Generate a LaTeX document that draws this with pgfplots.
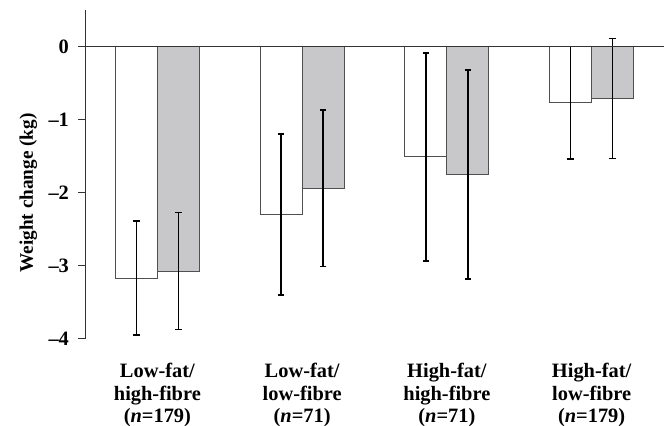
\documentclass[border=0pt]{standalone}
\usepackage{fontspec}
\setmainfont{Liberation Serif}
\usepackage{pgfplots}
\pgfplotsset{compat=1.18}
\definecolor{barfill}{HTML}{C8C8CA}
\definecolor{baredge}{HTML}{505050}
\begin{document}
\begin{tikzpicture}
\begin{axis}[
  scale only axis,
  width=289.5pt, height=164.5pt,
  xmin=-0.5, xmax=3.5,
  ymin=-4, ymax=0.5,
  axis y line=left,
  axis x line=bottom,
  x axis line style={draw=none},
  y axis line style={-, color=black!80, line width=0.5pt},
  major x tick style={draw=none},
  ytick={-4,-3,-2,-1,0},
  yticklabels={--4,--3,--2,--1,0},
  tick align=outside,
  major tick length=3.5pt,
  ytick style={color=black!80, line width=0.5pt},
  xtick={0,1,2,3},
  xticklabels={{Low-fat/\\high-fibre\\(\textit{n}=179)},
               {Low-fat/\\low-fibre\\(\textit{n}=71)},
               {High-fat/\\high-fibre\\(\textit{n}=71)},
               {High-fat/\\low-fibre\\(\textit{n}=179)}},
  xticklabel style={align=center, font=\fontsize{10.2}{11.3}\selectfont\bfseries, yshift=-5pt},
  yticklabel style={font=\fontsize{10.2}{11.3}\selectfont\bfseries, xshift=-1pt},
  ylabel={Weight change (kg)},
  ylabel style={font=\fontsize{9.6}{11.3}\selectfont\bfseries,
    at={(axis description cs:-0.098,0.444)}, anchor=center},
  ybar=0pt,
  bar width=21pt,
  clip=false,
]
\addplot[draw=baredge, fill=white, line width=0.5pt,
  error bars/.cd, y dir=both, y explicit,
  error bar style={black, line width=0.85pt},
  error mark options={rotate=90, mark size=1.6pt, line width=0.85pt, black}]
  coordinates {
  (0,-3.17) +- (0,0.78)
  (1,-2.30) +- (0,1.10)
  (2,-1.51) +- (0,1.42)
  (3,-0.77) +- (0,0.77)
  };
\addplot[draw=baredge, fill=barfill, line width=0.5pt,
  error bars/.cd, y dir=both, y explicit,
  error bar style={black, line width=0.85pt},
  error mark options={rotate=90, mark size=1.6pt, line width=0.85pt, black}]
  coordinates {
  (0,-3.07) +- (0,0.80)
  (1,-1.94) +- (0,1.07)
  (2,-1.75) +- (0,1.43)
  (3,-0.71) +- (0,0.82)
  };
\draw[black!80, line width=0.5pt] (axis cs:-0.5,0) -- (axis cs:3.5,0);
\end{axis}
\pgfresetboundingbox
\path (-42.5pt,-43.5pt) rectangle (291pt,169.5pt);
\end{tikzpicture}
\end{document}
